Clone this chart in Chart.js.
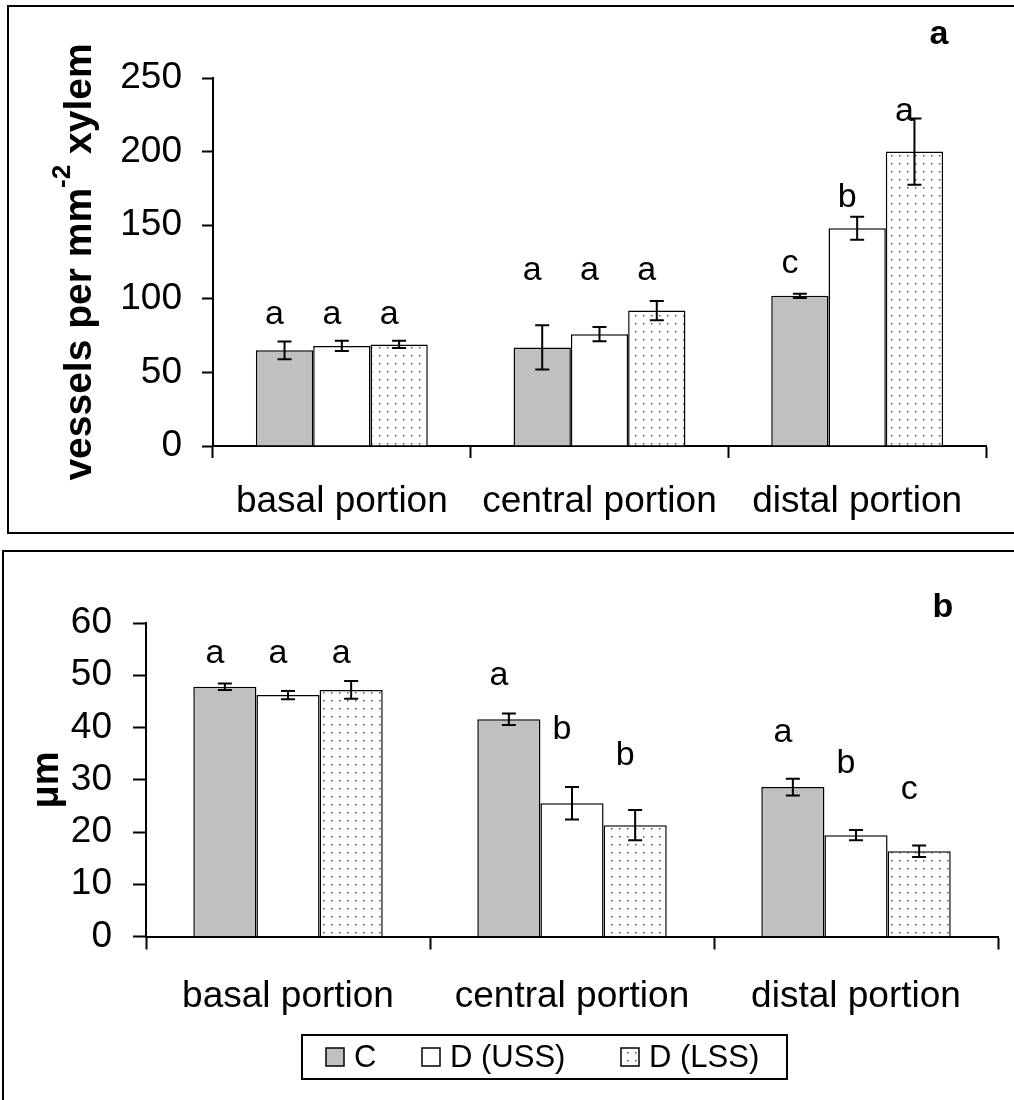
<!DOCTYPE html>
<html>
<head>
<meta charset="utf-8">
<script src="https://cdn.jsdelivr.net/npm/chart.js@4.4.0/dist/chart.umd.min.js"></script>
<style>
  body { margin: 0; background: #fff; width: 1014px; height: 1100px; position: relative; overflow: hidden; }
  .frame { position: absolute; border: 2px solid #000; box-sizing: border-box; }
  canvas { position: absolute; left: 0; }
</style>
</head>
<body>
<div class="frame" style="left:7px; top:5px; width:1030px; height:529px;"></div>
<div class="frame" style="left:2px; top:550px; width:1030px; height:600px;"></div>
<canvas id="chartA" width="1014" height="540" style="top:0"></canvas>
<canvas id="chartB" width="1014" height="555" style="top:545px"></canvas>
<script>
const FONT = "'Liberation Sans', Arial, sans-serif";

const categories = ['basal portion', 'central portion', 'distal portion'];
const seriesNames = ['C', 'D (USS)', 'D (LSS)'];

// panel a: vessels per mm-2 xylem
const vesC = [65, 67, 102];
const vesUSS = [68, 76, 148];
const vesLSS = [69, 92, 200];
const vesErrC = [6, 15, 1.5];
const vesErrUSS = [3.5, 4.8, 7.8];
const vesErrLSS = [2.5, 6.5, 22.5];
const vesLetC = ['a', 'a', 'c'];
const vesLetUSS = ['a', 'a', 'b'];
const vesLetLSS = ['a', 'a', 'a'];
const vesLetAtC = [89, 119, 124];
const vesLetAtUSS = [89, 119, 169];
const vesLetAtLSS = [89, 119, 227];

// panel b: vessel diameter (um)
const diaC = [47.8, 41.6, 28.6];
const diaUSS = [46.2, 25.5, 19.4];
const diaLSS = [47.2, 21.3, 16.3];
const diaErrC = [0.6, 1.1, 1.6];
const diaErrUSS = [0.8, 3.1, 1.0];
const diaErrLSS = [1.7, 2.9, 1.1];
const diaLetC = ['a', 'a', 'a'];
const diaLetUSS = ['a', 'b', 'b'];
const diaLetLSS = ['a', 'b', 'c'];
const diaLetAtC = [54.2, 50.0, 39.1];
const diaLetAtUSS = [54.2, 39.5, 33.0];
const diaLetAtLSS = [54.2, 34.7, 28.2];

function dotPattern(){
  const c = document.createElement('canvas');
  c.width = 8; c.height = 8;
  const x = c.getContext('2d');
  x.fillStyle = '#fff';
  x.fillRect(0, 0, 8, 8);
  x.fillStyle = '#555';
  x.fillRect(3, 3, 1.5, 1.5);
  return x.createPattern(c, 'repeat');
}
const dots = dotPattern();
const fills = ['#c0c0c0', '#ffffff', dots];

function makeSets(vals, errs, lets, letAt){
  return vals.map((v, i) => ({
    label: seriesNames[i],
    data: v,
    errs: errs[i],
    lets: lets[i],
    letAt: letAt[i],
    backgroundColor: fills[i],
    borderColor: '#000',
    borderWidth: 1.5,
    barPercentage: 1,
    categoryPercentage: 0.667
  }));
}

// error bars + significance letters
const extras = {
  id: 'extras',
  afterDatasetsDraw(chart){
    const ctx = chart.ctx;
    const y = chart.scales.y;
    ctx.save();
    chart.data.datasets.forEach((ds, di) => {
      const meta = chart.getDatasetMeta(di);
      meta.data.forEach((bar, i) => {
        const v = ds.data[i], e = ds.errs[i];
        const y1 = y.getPixelForValue(v + e), y2 = y.getPixelForValue(v - e);
        ctx.strokeStyle = '#000';
        ctx.lineWidth = 2;
        ctx.beginPath();
        ctx.moveTo(bar.x, y1); ctx.lineTo(bar.x, y2);
        ctx.moveTo(bar.x - 7, y1); ctx.lineTo(bar.x + 7, y1);
        ctx.moveTo(bar.x - 7, y2); ctx.lineTo(bar.x + 7, y2);
        ctx.stroke();
        ctx.fillStyle = '#000';
        ctx.font = '34px ' + FONT;
        ctx.textAlign = 'center';
        ctx.textBaseline = 'middle';
        ctx.fillText(ds.lets[i], bar.x - 10, y.getPixelForValue(ds.letAt[i]));
      });
    });
    ctx.restore();
  }
};

// titles, panel letter, legend
const decor = {
  id: 'decor',
  afterDraw(chart, args, o){
    const ctx = chart.ctx;
    ctx.save();
    ctx.fillStyle = '#000';
    ctx.textBaseline = 'middle';
    ctx.textAlign = 'center';
    ctx.font = 'bold 34px ' + FONT;
    ctx.fillText(o.panel, o.panelX, o.panelY);

    // rotated y title
    ctx.translate(o.titleX, o.titleY);
    ctx.rotate(-Math.PI / 2);
    ctx.textAlign = 'left';
    ctx.textBaseline = 'alphabetic';
    const big = 'bold ' + o.titleSize + 'px ' + FONT, small = 'bold 26px ' + FONT;
    ctx.font = big;
    const w1 = ctx.measureText(o.title[0]).width;
    const w3 = o.title[2] ? ctx.measureText(o.title[2]).width : 0;
    ctx.font = small;
    const w2 = o.title[1] ? ctx.measureText(o.title[1]).width : 0;
    let x = -(w1 + w2 + w3) / 2;
    const base = o.titleSize * 0.36;
    ctx.font = big; ctx.fillText(o.title[0], x, base); x += w1;
    if (o.title[1]) { ctx.font = small; ctx.fillText(o.title[1], x, base - 21); x += w2; }
    if (o.title[2]) { ctx.font = big; ctx.fillText(o.title[2], x, base); }
    ctx.restore();

    if (o.legend) {
      ctx.save();
      ctx.lineWidth = 2;
      ctx.strokeStyle = '#000';
      ctx.strokeRect(302, 490, 485, 44);
      const sx = [326, 422, 621];
      ctx.font = '31px ' + FONT;
      ctx.textBaseline = 'middle';
      chart.data.datasets.forEach((ds, i) => {
        ctx.fillStyle = ds.backgroundColor;
        ctx.fillRect(sx[i], 503, 18, 18);
        ctx.lineWidth = 1.5;
        ctx.strokeRect(sx[i], 503, 18, 18);
        ctx.fillStyle = '#000';
        ctx.fillText(ds.label, sx[i] + 28, 513);
      });
      ctx.restore();
    }
  }
};

function axes(max, step, yw, yPad, yTick, xh, xTick, xPad){
  const tickFont = { family: FONT, size: 37 };
  return {
    y: {
      min: 0, max: max,
      ticks: { stepSize: step, color: '#000', font: tickFont, padding: yPad },
      grid: { drawOnChartArea: false, tickLength: yTick, tickColor: '#000', tickWidth: 2 },
      border: { color: '#000', width: 2 },
      afterFit: s => { s.width = yw; }
    },
    x: {
      ticks: { color: '#000', font: tickFont, padding: xPad, maxRotation: 0 },
      grid: { offset: true, drawOnChartArea: false, tickLength: xTick, tickColor: '#000', tickWidth: 2 },
      border: { color: '#000', width: 2 },
      afterFit: s => { s.height = xh; }
    }
  };
}

new Chart(document.getElementById('chartA'), {
  type: 'bar',
  data: { labels: categories, datasets: makeSets([vesC, vesUSS, vesLSS], [vesErrC, vesErrUSS, vesErrLSS], [vesLetC, vesLetUSS, vesLetLSS], [vesLetAtC, vesLetAtUSS, vesLetAtLSS]) },
  options: {
    responsive: false, animation: false,
    layout: { padding: { top: 78, right: 28, left: 0, bottom: 0 } },
    plugins: {
      legend: { display: false }, tooltip: { enabled: false },
      decor: { panel: 'a', panelX: 939, panelY: 35, title: ['vessels per mm', '-2', ' xylem'], titleSize: 39, titleX: 77, titleY: 262 }
    },
    scales: axes(250, 50, 213, 20, 11, 94, 12, 22)
  },
  plugins: [extras, decor]
});

new Chart(document.getElementById('chartB'), {
  type: 'bar',
  data: { labels: categories, datasets: makeSets([diaC, diaUSS, diaLSS], [diaErrC, diaErrUSS, diaErrLSS], [diaLetC, diaLetUSS, diaLetLSS], [diaLetAtC, diaLetAtUSS, diaLetAtLSS]) },
  options: {
    responsive: false, animation: false,
    layout: { padding: { top: 78, right: 16, left: 0, bottom: 0 } },
    plugins: {
      legend: { display: false }, tooltip: { enabled: false },
      decor: { panel: 'b', panelX: 943, panelY: 63, title: ['\u03bcm'], titleSize: 38, titleX: 44, titleY: 235, legend: true }
    },
    scales: axes(60, 10, 146, 21, 13, 163.5, 13, 25)
  },
  plugins: [extras, decor]
});
</script>
</body>
</html>
